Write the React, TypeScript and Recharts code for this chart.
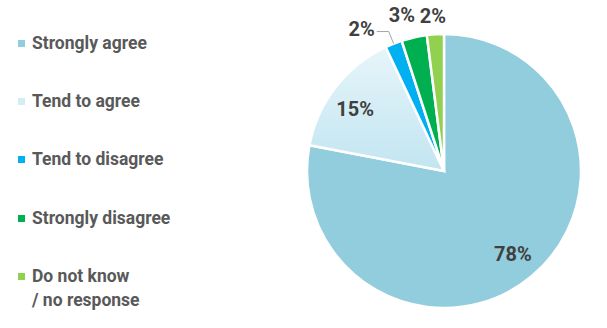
import React from 'react';
import { PieChart, Pie, Cell, Legend } from 'recharts';

const categories = ['Strongly agree', 'Tend to agree', 'Tend to disagree', 'Strongly disagree', 'Do not know\n/ no response'];
const values = [78, 15, 2, 3, 2];
const sliceFills = ['#92CDDD', 'url(#tendAgreeGrad)', '#00B0F0', '#00B050', '#92D050'];
const legendColors = ['#92CDDD', '#D3ECF5', '#00B0F0', '#00B050', '#92D050'];

const data = categories.map((name, i) => ({ name, value: values[i] }));

const RAD = Math.PI / 180;
const FONT = 'Roboto, "Open Sans", sans-serif';
const LEGEND_W = 260;
const labelStyle = { fontFamily: FONT, fontWeight: 700, fontSize: 20, fill: '#404040' } as const;

const renderLabel = (props: any) => {
  const { cx, cy, midAngle, outerRadius, index, value } = props;
  const text = `${value}%`;
  const pt = (r: number, ang: number) => ({
    x: cx + r * Math.cos(ang * RAD),
    y: cy - r * Math.sin(ang * RAD),
  });
  if (index === 0 || index === 1) {
    const p = pt(outerRadius * 0.79, midAngle + (index === 1 ? 3 : 0));
    return (
      <text x={p.x} y={p.y} textAnchor="middle" dominantBaseline="central" style={labelStyle}>
        {text}
      </text>
    );
  }
  if (index === 2) {
    const p0 = pt(outerRadius, midAngle);
    const p1 = pt(outerRadius + 13, midAngle);
    const x2 = p1.x - 12;
    return (
      <g>
        <polyline
          points={`${p0.x},${p0.y} ${p1.x},${p1.y} ${x2},${p1.y}`}
          fill="none"
          stroke="#A6A6A6"
          strokeWidth={1}
        />
        <text x={x2 - 2} y={p1.y - 3} textAnchor="end" dominantBaseline="central" style={labelStyle}>
          {text}
        </text>
      </g>
    );
  }
  const r = index === 3 ? outerRadius + 25 : outerRadius + 18;
  const p = pt(r, midAngle + (index === 3 ? 2.5 : 0.5));
  return (
    <text x={p.x} y={p.y} textAnchor="middle" dominantBaseline="central" style={labelStyle}>
      {text}
    </text>
  );
};

const renderLegend = () => (
  <div style={{ position: 'relative', width: LEGEND_W, height: 328 }}>
    {categories.map((name, i) => {
      const center = 43 + i * 58.4;
      return (
        <div key={name}>
          <div
            style={{
              position: 'absolute',
              left: 18,
              top: center - 3.5,
              width: 7,
              height: 7,
              background: legendColors[i],
            }}
          />
          <div
            style={{
              position: 'absolute',
              left: 32,
              top: center - 12.5,
              fontFamily: FONT,
              fontWeight: 700,
              fontSize: 17.5,
              lineHeight: '24px',
              color: '#595959',
              whiteSpace: 'pre',
            }}
          >
            {name}
          </div>
        </div>
      );
    })}
  </div>
);

export default function App() {
  return (
    <div style={{ position: 'absolute', left: 0, top: 0, width: 607, height: 328, background: '#fff' }}>
      <PieChart width={607} height={328} margin={{ top: 0, right: 0, bottom: 0, left: 0 }}>
        <defs>
          <linearGradient id="tendAgreeGrad" x1="0" y1="0" x2="0" y2="1">
            <stop offset="0%" stopColor="#E6F5FA" />
            <stop offset="100%" stopColor="#C2E5F1" />
          </linearGradient>
        </defs>
        <Legend
          layout="vertical"
          align="left"
          verticalAlign="top"
          content={renderLegend}
          wrapperStyle={{ left: 0, top: 0, width: LEGEND_W, height: 328 }}
        />
        <Pie
          data={data}
          dataKey="value"
          nameKey="name"
          cx={444 - LEGEND_W}
          cy={171}
          outerRadius={137}
          startAngle={90}
          endAngle={-270}
          stroke="#FFFFFF"
          strokeWidth={2.5}
          label={renderLabel}
          labelLine={false}
          isAnimationActive={false}
        >
          {data.map((d, i) => (
            <Cell key={d.name} fill={sliceFills[i]} />
          ))}
        </Pie>
      </PieChart>
    </div>
  );
}
